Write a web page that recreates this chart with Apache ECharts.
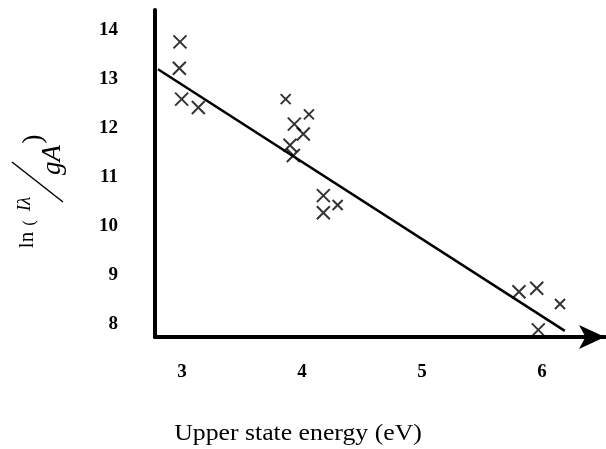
<!DOCTYPE html>
<html>
<head>
<meta charset="utf-8">
<script src="https://cdn.jsdelivr.net/npm/echarts@6/dist/echarts.min.js"></script>
<style>
  html, body { margin: 0; padding: 0; background: #fff; }
  #chart { width: 606px; height: 449px; }
</style>
</head>
<body>
<div id="chart"></div>
<script>
// Boltzmann plot: ln(Iλ/gA) against upper state energy
const bigEnergy = [2.983, 2.978, 2.997, 3.136, 3.936, 4.011, 3.900, 3.928, 4.178, 4.178, 5.808, 5.956, 5.969];
const bigLnValue = [13.76, 13.22, 12.59, 12.42, 12.08, 11.88, 11.65, 11.44, 10.62, 10.27, 8.66, 8.73, 7.88];
const smallEnergy = [3.864, 4.058, 4.297, 6.150];
const smallLnValue = [12.59, 12.28, 10.43, 8.41];
// fitted straight line end points
const fitEnergy = [2.80, 6.19];
const fitLnValue = [13.20, 7.86];
const xTicks = [3, 4, 5, 6];
const yTicks = [8, 9, 10, 11, 12, 13, 14];

const zip = (a, b) => a.map((v, i) => [v, b[i]]);
const crossPath = 'path://M0 0L10 10M10 0L0 10';
const serif = '"Liberation Serif", "DejaVu Serif", serif';

const chart = echarts.init(document.getElementById('chart'), null, { renderer: 'canvas' });

chart.setOption({
  animation: false,
  backgroundColor: '#fff',
  grid: { left: 155, right: 1, top: 10, bottom: 112, outerBoundsMode: 'none', containLabel: false },
  xAxis: {
    type: 'value',
    min: 2.775,
    max: 6.525,
    axisLine: { show: true, symbol: ['none', 'arrow'], symbolSize: [18, 26], lineStyle: { color: '#000', width: 4 } },
    axisTick: { show: false },
    splitLine: { show: false },
    axisLabel: { customValues: xTicks, margin: 26, fontFamily: serif, fontWeight: 'bold', fontSize: 19, color: '#000' }
  },
  yAxis: {
    type: 'value',
    min: 7.735,
    max: 14.41,
    axisLine: { show: true, lineStyle: { color: '#000', width: 4 } },
    axisTick: { show: false },
    splitLine: { show: false },
    axisLabel: { customValues: yTicks, margin: 37, fontFamily: serif, fontWeight: 'bold', fontSize: 19, color: '#000' }
  },
  series: [
    {
      type: 'line',
      data: zip(fitEnergy, fitLnValue),
      symbol: 'none',
      lineStyle: { color: '#000', width: 2.5 },
      z: 3
    },
    {
      type: 'scatter',
      data: zip(bigEnergy, bigLnValue),
      symbol: crossPath,
      symbolSize: 13,
      itemStyle: { color: 'none', borderColor: '#000', borderWidth: 2 },
      z: 4
    },
    {
      type: 'scatter',
      data: zip(smallEnergy, smallLnValue),
      symbol: crossPath,
      symbolSize: 10,
      itemStyle: { color: 'none', borderColor: '#000', borderWidth: 2 },
      z: 4
    }
  ],
  graphic: [
    {
      type: 'text', x: 298, y: 434, scaleX: 1.12,
      style: { text: 'Upper state energy (eV)', font: '23px ' + serif, fill: '#000', align: 'center', verticalAlign: 'middle' }
    },
    // rotated y-axis title: ln( Iλ / gA )
    {
      type: 'text', x: 27, y: 240, rotation: Math.PI / 2,
      style: { text: 'ln', font: '21px ' + serif, fill: '#000', align: 'center', verticalAlign: 'middle' }
    },
    {
      type: 'text', x: 30, y: 223, rotation: Math.PI / 2,
      style: { text: '(', font: '17px ' + serif, fill: '#000', align: 'center', verticalAlign: 'middle' }
    },
    {
      type: 'text', x: 25, y: 204, rotation: Math.PI / 2,
      style: { text: 'Iλ', font: 'italic 19px ' + serif, fill: '#000', align: 'center', verticalAlign: 'middle' }
    },
    {
      type: 'line',
      shape: { x1: 12, y1: 162, x2: 63, y2: 202 },
      style: { stroke: '#000', lineWidth: 1.5 }
    },
    {
      type: 'text', x: 53, y: 160, rotation: Math.PI / 2,
      style: { text: 'gA', font: 'italic 27px ' + serif, fill: '#000', align: 'center', verticalAlign: 'middle' }
    },
    {
      type: 'text', x: 34, y: 139, rotation: Math.PI / 2,
      style: { text: ')', font: '28px ' + serif, fill: '#000', align: 'center', verticalAlign: 'middle' }
    }
  ]
});
</script>
</body>
</html>
